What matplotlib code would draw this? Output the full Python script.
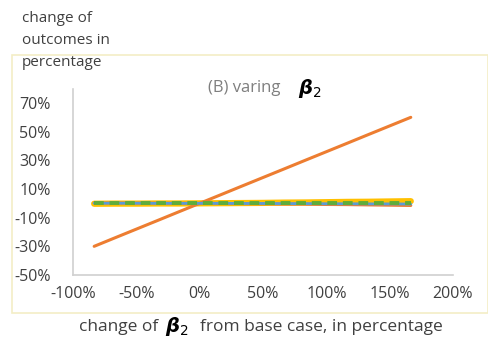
import matplotlib.pyplot as plt
from matplotlib.patches import Rectangle

# change of beta2 from base case (%)
x_change = [-83.3, -66.7, -50, -33.3, -16.7, 0, 16.7, 33.3, 50, 66.7, 83.3, 100, 116.7, 133.3, 150, 166.7]

# outcome changes (%)
orange_main = [-30, -24, -18, -12, -6, 0, 6, 12, 18, 24, 30, 36, 42, 48, 54, 60]
yellow_flat = [-0.3, -0.2, -0.2, -0.1, -0.1, 0, 0.1, 0.2, 0.3, 0.5, 0.6, 0.8, 1.0, 1.1, 1.3, 1.5]
orange_flat = [0.2, 0.2, 0.1, 0.1, 0, 0, -0.1, -0.2, -0.3, -0.5, -0.6, -0.8, -0.9, -1.1, -1.3, -1.5]
blue_flat = [0.1, 0.1, 0.1, 0, 0, 0, 0, -0.1, -0.1, -0.2, -0.2, -0.3, -0.3, -0.4, -0.4, -0.5]
green_flat = [0, 0, 0, 0, 0, 0, 0, 0, 0, 0, 0, 0, 0, 0, 0, 0]

y_ticks = [-50, -30, -10, 10, 30, 50, 70]
x_ticks = [-100, -50, 0, 50, 100, 150, 200]

plt.rcParams['font.family'] = ['Open Sans', 'DejaVu Sans']
plt.rcParams['mathtext.fontset'] = 'dejavusans'

fig = plt.figure(figsize=(4.89, 3.47), dpi=100)
ax = fig.add_axes([0.1493, 0.2075, 0.777, 0.537])

# outer chart frame
fig.patches.append(Rectangle((0.0245, 0.098), 0.973, 0.7435, transform=fig.transFigure,
                             fill=False, edgecolor='#F3EEC6', linewidth=1.2))

ax.plot(x_change, yellow_flat, color='#FFC000', linewidth=4.5, solid_capstyle='round')
ax.plot(x_change, orange_flat, color='#ED7D31', linewidth=2.2, solid_capstyle='round')
ax.plot(x_change, orange_main, color='#ED7D31', linewidth=2.2, solid_capstyle='round')
ax.plot(x_change, blue_flat, color='#5B9BD5', linewidth=2.0, solid_capstyle='round')
ax.plot(x_change, green_flat, color='#5FAD3A', linewidth=2.8, linestyle=(0, (2.5, 1.5)))

ax.set_xlim(-100, 200)
ax.set_ylim(-50, 80)
ax.set_xticks(x_ticks)
ax.set_xticklabels([f'{v}%' for v in x_ticks])
ax.set_yticks(y_ticks)
ax.set_yticklabels([f'{v}%' for v in y_ticks])
ax.tick_params(length=0, labelsize=11.5, labelcolor='#404040')
ax.tick_params(axis='y', pad=16)
ax.tick_params(axis='x', pad=8)

for side in ['top', 'right']:
    ax.spines[side].set_visible(False)
for side in ['left', 'bottom']:
    ax.spines[side].set_color('#D0D0D0')
    ax.spines[side].set_linewidth(1.2)

# title inside the plot area
fig.text(208 / 489, 1 - 88 / 347, '(B) varing', fontsize=12, color='#7F7F7F', va='center', ha='left')
fig.text(298 / 489, 1 - 89 / 347, r'$\boldsymbol{\beta}_{2}$', fontsize=14, color='#000000', va='center', ha='left')

# y axis label at top-left
fig.text(22 / 489, 1 - 18 / 347, 'change of', fontsize=11, color='#404040', va='center')
fig.text(22 / 489, 1 - 40 / 347, 'outcomes in', fontsize=11, color='#404040', va='center')
fig.text(22 / 489, 1 - 63 / 347, 'percentage', fontsize=11, color='#404040', va='center')

# x axis label
fig.text(79 / 489, 1 - 327 / 347, 'change of', fontsize=12.5, color='#404040', va='center')
fig.text(165 / 489, 1 - 327 / 347, r'$\boldsymbol{\beta}_{2}$', fontsize=14, color='#000000', va='center')
fig.text(200 / 489, 1 - 327 / 347, 'from base case, in percentage', fontsize=12.5, color='#404040', va='center')

fig.savefig('out.png', dpi=100)
